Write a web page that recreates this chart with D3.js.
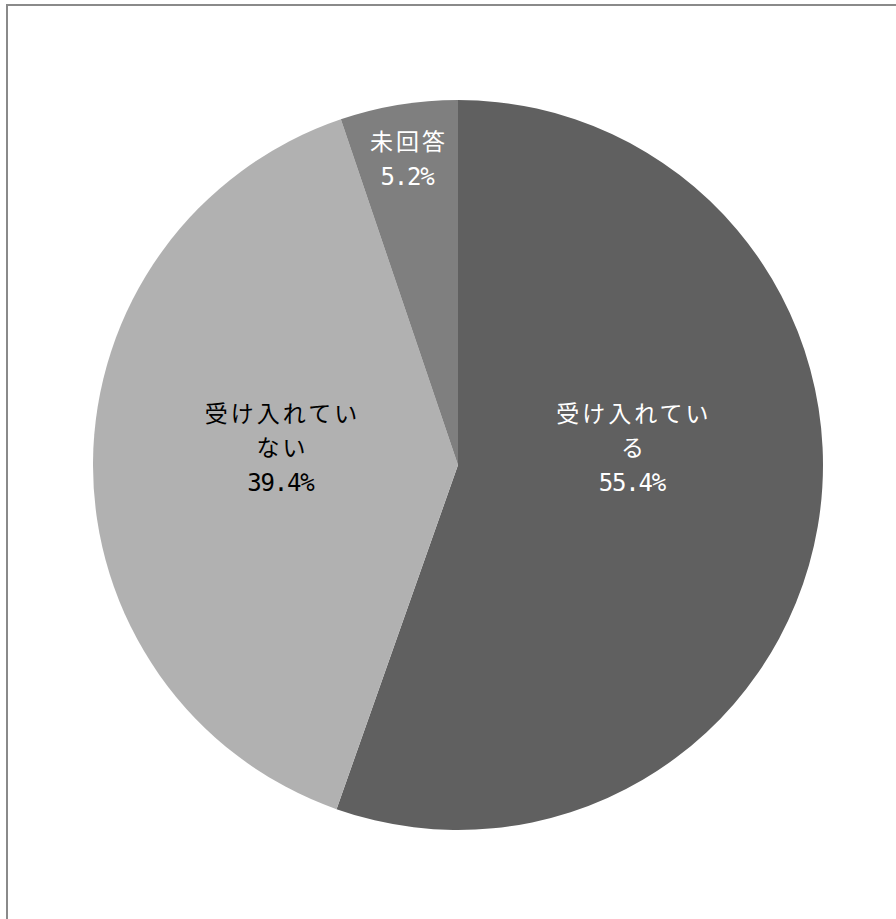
<!DOCTYPE html>
<meta charset="utf-8">
<head>
<style>
  body { margin: 0; background: #fff; }
  svg { display: block; }
  .lbl-cjk { font-family: 'Noto Sans CJK JP', sans-serif; font-size: 23px; letter-spacing: 3px; }
  .lbl-num { font-family: 'DejaVu Sans Mono', monospace; font-size: 24px; letter-spacing: -1.2px; }
</style>
<title>受け入れ状況</title>
</head>
<body>
<svg id="graphic" width="896" height="919"></svg>
<script src="https://cdn.jsdelivr.net/npm/d3@7"></script>
<script>
// data
var categories = ["受け入れている", "受け入れていない", "未回答"];
var values = [55.4, 39.4, 5.2];
var colors = ["#606060", "#b1b1b1", "#7f7f7f"];
var textColors = ["#ffffff", "#000000", "#ffffff"];

var svg = d3.select("svg"),
    width = +svg.attr("width"),
    height = +svg.attr("height");

// outer frame (right and bottom edges fall outside the window)
svg.append("rect")
    .attr("x", 7).attr("y", 5)
    .attr("width", width + 20).attr("height", height + 20)
    .attr("fill", "none")
    .attr("stroke", "#8a8a8a")
    .attr("stroke-width", 2);

var cx = 458, cy = 465, radius = 365;

var pie = d3.pie().sort(null).value(function(d) { return d; });
var arcs = pie(values);

var arc = d3.arc().innerRadius(0).outerRadius(radius);
var labelArc = d3.arc().innerRadius(0).outerRadius(radius * 0.97);
var outerLabelArc = d3.arc().innerRadius(radius * 0.7).outerRadius(radius);

var g = svg.append("g").attr("transform", "translate(" + cx + "," + cy + ")");

g.selectAll("path.slice")
    .data(arcs)
    .enter().append("path")
    .attr("class", "slice")
    .attr("d", arc)
    .attr("fill", function(d, i) { return colors[i]; });

function wrap(s, n) {
  var out = [];
  for (var i = 0; i < s.length; i += n) out.push(s.slice(i, i + n));
  return out;
}

var lineH = 34;

arcs.forEach(function(d, i) {
  var small = (d.endAngle - d.startAngle) < 0.1 * 2 * Math.PI;
  var c = small ? outerLabelArc.centroid(d) : labelArc.centroid(d);
  var x = c[0], y = small ? c[1] : -17;
  var lines = wrap(categories[i], 6);
  var all = lines.map(function(t) { return { t: t, num: false }; });
  all.push({ t: d3.format(".1f")(values[i]) + "%", num: true });
  var top = y - (all.length - 1) * lineH / 2;
  var t = g.append("text")
      .attr("text-anchor", "middle")
      .attr("fill", textColors[i]);
  all.forEach(function(l, k) {
    t.append("tspan")
      .attr("class", l.num ? "lbl-num" : "lbl-cjk")
      .attr("x", x + (l.num ? -0.6 : 1.5))
      .attr("y", top + k * lineH)
      .attr("dy", "0.36em")
      .text(l.t);
  });
});
</script>
</body>
